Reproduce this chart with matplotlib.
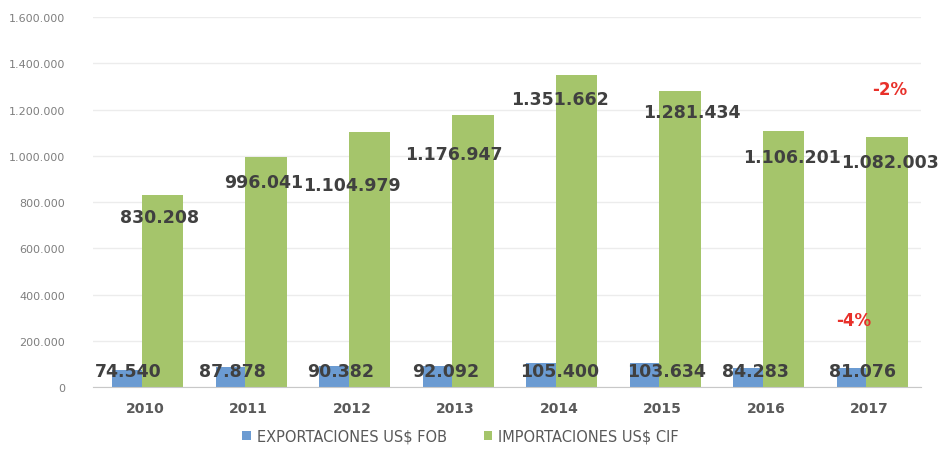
import matplotlib.pyplot as plt
from matplotlib.ticker import FuncFormatter

# data
years = ['2010', '2011', '2012', '2013', '2014', '2015', '2016', '2017']
exportaciones = [74540, 87878, 90382, 92092, 105400, 103634, 84283, 81076]
importaciones = [830208, 996041, 1104979, 1176947, 1351662, 1281434, 1106201, 1082003]
exp_labels = ['74.540', '87.878', '90.382', '92.092', '105.400', '103.634', '84.283', '81.076']
imp_labels = ['830.208', '996.041', '1.104.979', '1.176.947', '1.351.662', '1.281.434', '1.106.201', '1.082.003']

# label nudges in pixels from the year tick - labels were hand placed in the original
imp_dx = [15, 15, 0, -2, 1, 29, 26, 20]
imp_dy = [-22, -25, -53, -39, -24, -21, -26, -25]
exp_dx = [-17, -16, -11, -10, 1, 4, -10, -7]

blue = '#6b9bd2'
green = '#a5c56b'
txt = '#404040'

fig = plt.figure(figsize=(9.4, 4.77), dpi=100)
ax = fig.add_axes([0.099, 0.1866, 0.881, 0.7754])

x = list(range(len(years)))
ax.bar([i - 0.17 for i in x], exportaciones, width=0.29, color=blue, zorder=2,
       label='EXPORTACIONES US$ FOB')
ax.bar([i + 0.17 for i in x], importaciones, width=0.40, color=green, zorder=2,
       label='IMPORTACIONES US$ CIF')

px = 0.72  # pixels -> points at dpi 100
for i in x:
    ax.annotate(imp_labels[i], (i, importaciones[i]), xytext=(imp_dx[i] * px, imp_dy[i] * px),
                textcoords='offset points', ha='center', va='center',
                fontsize=12.5, fontweight='bold', color=txt, zorder=3)
    ax.annotate(exp_labels[i], (i, 69000), xytext=(exp_dx[i] * px, 0),
                textcoords='offset points', ha='center', va='center',
                fontsize=12.5, fontweight='bold', color=txt, zorder=3)

# variation 2017 vs 2016
ax.text(7.2, 1290000, '-2%', color='#e8302a', fontsize=12, fontweight='bold', ha='center', va='center')
ax.text(6.85, 290000, '-4%', color='#e8302a', fontsize=12, fontweight='bold', ha='center', va='center')

ax.set_xlim(-0.5, 7.5)
ax.set_ylim(0, 1600000)
ax.set_yticks(range(0, 1600001, 200000))
ax.yaxis.set_major_formatter(FuncFormatter(lambda v, p: f'{int(v):,}'.replace(',', '.')))
ax.set_xticks(x)
ax.set_xticklabels(years, fontweight='bold')
ax.tick_params(axis='y', length=0, labelsize=8, labelcolor='#7f7f7f', pad=20)
ax.tick_params(axis='x', length=0, labelsize=10, labelcolor='#595959', pad=10)

ax.grid(axis='y', color='#ececec', linewidth=1, zorder=0)
for s in ['top', 'right', 'left']:
    ax.spines[s].set_visible(False)
ax.spines['bottom'].set_color('#c8c8c8')

fig.legend(loc='center', bbox_to_anchor=(0.49, 0.083), ncol=2, frameon=False,
           fontsize=10.5, labelcolor='#595959', handlelength=0.6, handleheight=0.6,
           columnspacing=2.5, handletextpad=0.4)

fig.savefig('out.png', dpi=100)
